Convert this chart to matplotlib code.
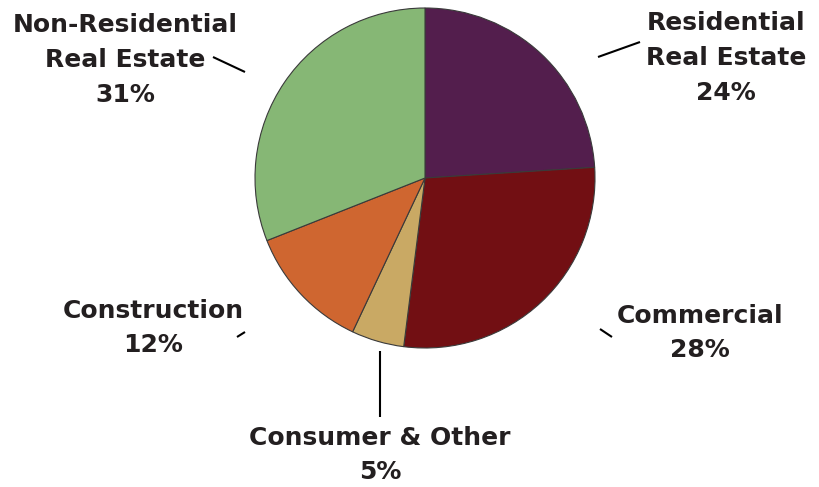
import matplotlib
matplotlib.use("Agg")
import matplotlib.pyplot as plt

# Loan portfolio composition
categories = ["Residential\nReal Estate", "Commercial", "Consumer & Other",
              "Construction", "Non-Residential\nReal Estate"]
shares = [24, 28, 5, 12, 31]
colors = ["#531E4D", "#720F13", "#C9A964", "#CF6630", "#86B775"]

W, H = 820, 487
fig = plt.figure(figsize=(W / 100, H / 100), dpi=100)
ax = fig.add_axes([0, 0, 1, 1])

cx, cy, r = 425, H - 178, 170
ax.pie(shares, colors=colors, startangle=90, counterclock=False,
       center=(cx, cy), radius=r, frame=True,
       wedgeprops=dict(edgecolor="#3a3a3a", linewidth=0.8))
ax.set_xlim(0, W)
ax.set_ylim(0, H)
ax.set_aspect("equal")
ax.axis("off")

txt = "#231F20"
font = dict(fontsize=18, fontweight="bold", color=txt, ha="center",
            va="center", family="DejaVu Sans", linespacing=1.56)

# label text positions (x, y in pixels from top)
label_pos = [(726, 58), (700, 333), (380, 455), (153, 328), (125, 60)]
# leader lines ((x0, y0), (x1, y1)) in pixels from top
leaders = [((598, 57), (640, 42)), ((600, 329), (612, 337)),
           ((380, 351), (380, 417)), ((237, 337), (245, 332)),
           ((213, 57), (245, 72))]

for name, val, (lx, ly), ((x0, y0), (x1, y1)) in zip(categories, shares, label_pos, leaders):
    ax.text(lx, H - ly, f"{name}\n{val}%", **font)
    ax.plot([x0, x1], [H - y0, H - y1], color="black", lw=1.5,
            solid_capstyle="butt")

fig.savefig("out.png", dpi=100)
